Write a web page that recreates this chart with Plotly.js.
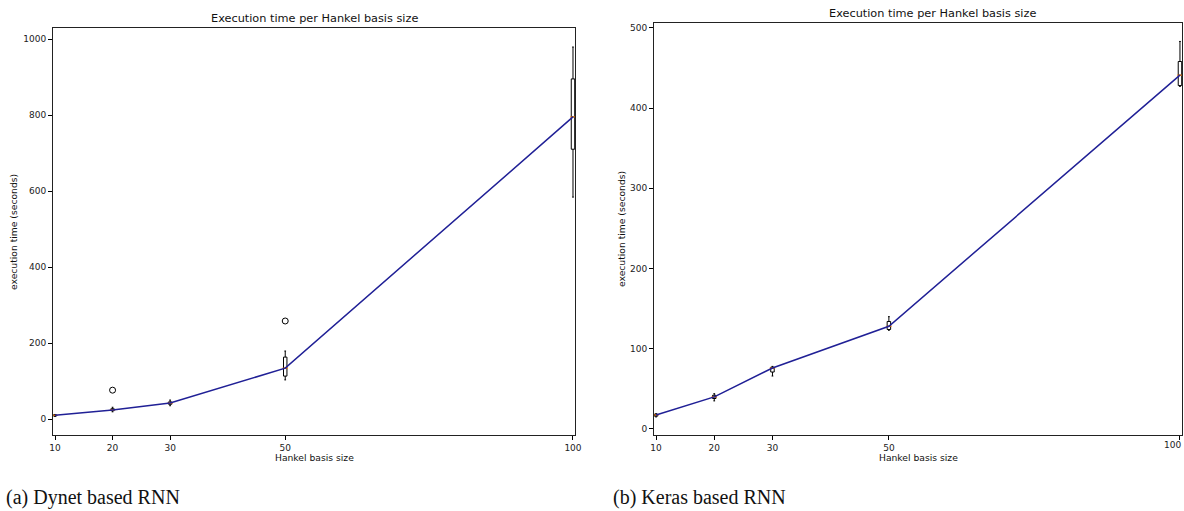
<!DOCTYPE html>
<html>
<head>
<meta charset="utf-8">
<script src="https://cdn.plot.ly/plotly-3.0.1.min.js"></script>
<style>html,body{margin:0;padding:0;background:#fff;}#chart{width:1184px;height:511px;}</style>
</head>
<body>
<div id="chart"></div>
<script>
// ---- Data ----
const basisSizes = [10, 20, 30, 50, 100];
const xTickVals = [10, 20, 30, 50, 100];

// (a) Dynet based RNN
const dynetQ1 = [8, 22, 39, 113, 710];
const dynetMedian = [10, 24, 42, 134, 795];
const dynetQ3 = [11, 27, 45, 163, 895];
const dynetLow = [7, 19, 35, 103, 584];
const dynetHigh = [12, 31, 50, 179, 979];
const dynetOutlierX = [20, 50];
const dynetOutlierY = [76, 258];
const dynetYTicks = [0, 200, 400, 600, 800, 1000];

// (b) Keras based RNN
const kerasQ1 = [16, 38, 71, 124, 428];
const kerasMedian = [17.5, 40, 76, 128, 441];
const kerasQ3 = [18.5, 42, 77, 134, 458];
const kerasLow = [15, 35, 66, 123, 427];
const kerasHigh = [19, 44, 78, 140, 483];
const kerasYTicks = [0, 100, 200, 300, 400, 500];

const titleText = "Execution time per Hankel basis size";
const xTitle = "Hankel basis size";
const yTitle = "execution time (seconds)";
const captionA = "(a) Dynet based RNN";
const captionB = "(b) Keras based RNN";

// ---- Style ----
const lineColor = "rgb(32,32,150)";
const medColor = "#ff7f0e";
const tickFont = {family: "DejaVu Sans", size: 9, color: "#222"};

function boxTrace(q1, med, q3, lo, hi, xa, ya) {
  return {
    type: "box", x: basisSizes, q1: q1, median: med, q3: q3,
    lowerfence: lo, upperfence: hi, width: 0.6, whiskerwidth: 0.5,
    boxpoints: false, fillcolor: "rgba(255,255,255,1)",
    line: {color: "#000", width: 1}, xaxis: xa, yaxis: ya,
    showlegend: false, hoverinfo: "skip"
  };
}
function medTrace(med, xa, ya) {
  return {type: "scatter", mode: "markers", x: basisSizes, y: med,
    marker: {symbol: "line-ew", size: 4, line: {color: medColor, width: 1}},
    xaxis: xa, yaxis: ya, showlegend: false, hoverinfo: "skip"};
}
function lineTrace(vals, xa, ya) {
  return {type: "scatter", mode: "lines", x: basisSizes, y: vals,
    line: {color: lineColor, width: 1.5}, xaxis: xa, yaxis: ya,
    showlegend: false, hoverinfo: "skip"};
}

const traces = [
  boxTrace(dynetQ1, dynetMedian, dynetQ3, dynetLow, dynetHigh, "x", "y"),
  medTrace(dynetMedian, "x", "y"),
  {type: "scatter", mode: "markers", x: dynetOutlierX, y: dynetOutlierY,
   marker: {symbol: "circle-open", size: 6, color: "#000", line: {width: 1}},
   xaxis: "x", yaxis: "y", showlegend: false, hoverinfo: "skip"},
  lineTrace(dynetMedian, "x", "y"),
  boxTrace(kerasQ1, kerasMedian, kerasQ3, kerasLow, kerasHigh, "x2", "y2"),
  medTrace(kerasMedian, "x2", "y2"),
  lineTrace(kerasMedian, "x2", "y2")
];

function xaxis(domain, anchor, tv) {
  return {domain: domain, anchor: anchor, range: [9.65, 100.35],
    tickmode: "array", tickvals: xTickVals, ticktext: tv,
    ticks: "outside", ticklen: 4, tickwidth: 1, tickcolor: "#000",
    showline: true, linecolor: "#222", linewidth: 1, mirror: true,
    showgrid: false, zeroline: false, tickfont: tickFont};
}
function yaxis(domain, anchor, range, tv) {
  return {domain: domain, anchor: anchor, range: range,
    tickmode: "array", tickvals: tv, ticktext: tv.map(String),
    ticks: "outside", ticklen: 4, tickwidth: 1, tickcolor: "#000",
    showline: true, linecolor: "#222", linewidth: 1, mirror: true,
    showgrid: false, zeroline: false, tickfont: tickFont};
}

const H = 511, W = 1184;
const py = v => (H - v) / H;
const px = v => v / W;

const titleFont = {family: "DejaVu Sans", size: 11.3, color: "#111"};
const labFont = {family: "DejaVu Sans", size: 9.2, color: "#111"};
const capFont = {family: "Liberation Serif", size: 20, color: "#111"};

// the last x tick label of panel (b) sits at the page edge; drawn as a right-anchored annotation so it stays visible
const lastTick = xTickVals[xTickVals.length - 1];
const xTextB = xTickVals.map((v, i) => i === xTickVals.length - 1 ? "" : String(v));

const layout = {
  width: W, height: H, margin: {l: 0, r: 0, t: 0, b: 0},
  paper_bgcolor: "#fff", plot_bgcolor: "#fff", showlegend: false,
  xaxis: xaxis([px(53), px(575)], "y", xTickVals.map(String)),
  yaxis: yaxis([py(435), py(28)], "x", [-42, 1029], dynetYTicks),
  xaxis2: xaxis([px(654), px(1182)], "y2", xTextB),
  yaxis2: yaxis([py(435), py(23)], "x2", [-7.5, 506], kerasYTicks),
  annotations: [
    {text: String(lastTick), xref: "paper", yref: "paper", x: px(1183), y: py(445), xanchor: "right", yanchor: "middle", showarrow: false, font: tickFont},
    {text: titleText, xref: "paper", yref: "paper", x: px(314), y: py(18), xanchor: "center", yanchor: "middle", showarrow: false, font: titleFont},
    {text: titleText, xref: "paper", yref: "paper", x: px(932), y: py(13), xanchor: "center", yanchor: "middle", showarrow: false, font: titleFont},
    {text: xTitle, xref: "paper", yref: "paper", x: px(314), y: py(457), xanchor: "center", yanchor: "middle", showarrow: false, font: labFont},
    {text: xTitle, xref: "paper", yref: "paper", x: px(918), y: py(457), xanchor: "center", yanchor: "middle", showarrow: false, font: labFont},
    {text: yTitle, xref: "paper", yref: "paper", x: px(13), y: py(232), xanchor: "center", yanchor: "middle", textangle: -90, showarrow: false, font: labFont},
    {text: yTitle, xref: "paper", yref: "paper", x: px(621), y: py(229), xanchor: "center", yanchor: "middle", textangle: -90, showarrow: false, font: labFont},
    {text: captionA, xref: "paper", yref: "paper", x: px(4), y: py(497), xanchor: "left", yanchor: "middle", showarrow: false, font: capFont},
    {text: captionB, xref: "paper", yref: "paper", x: px(611), y: py(497), xanchor: "left", yanchor: "middle", showarrow: false, font: capFont}
  ]
};

Plotly.newPlot("chart", traces, layout, {staticPlot: true, displayModeBar: false});
</script>
</body>
</html>
